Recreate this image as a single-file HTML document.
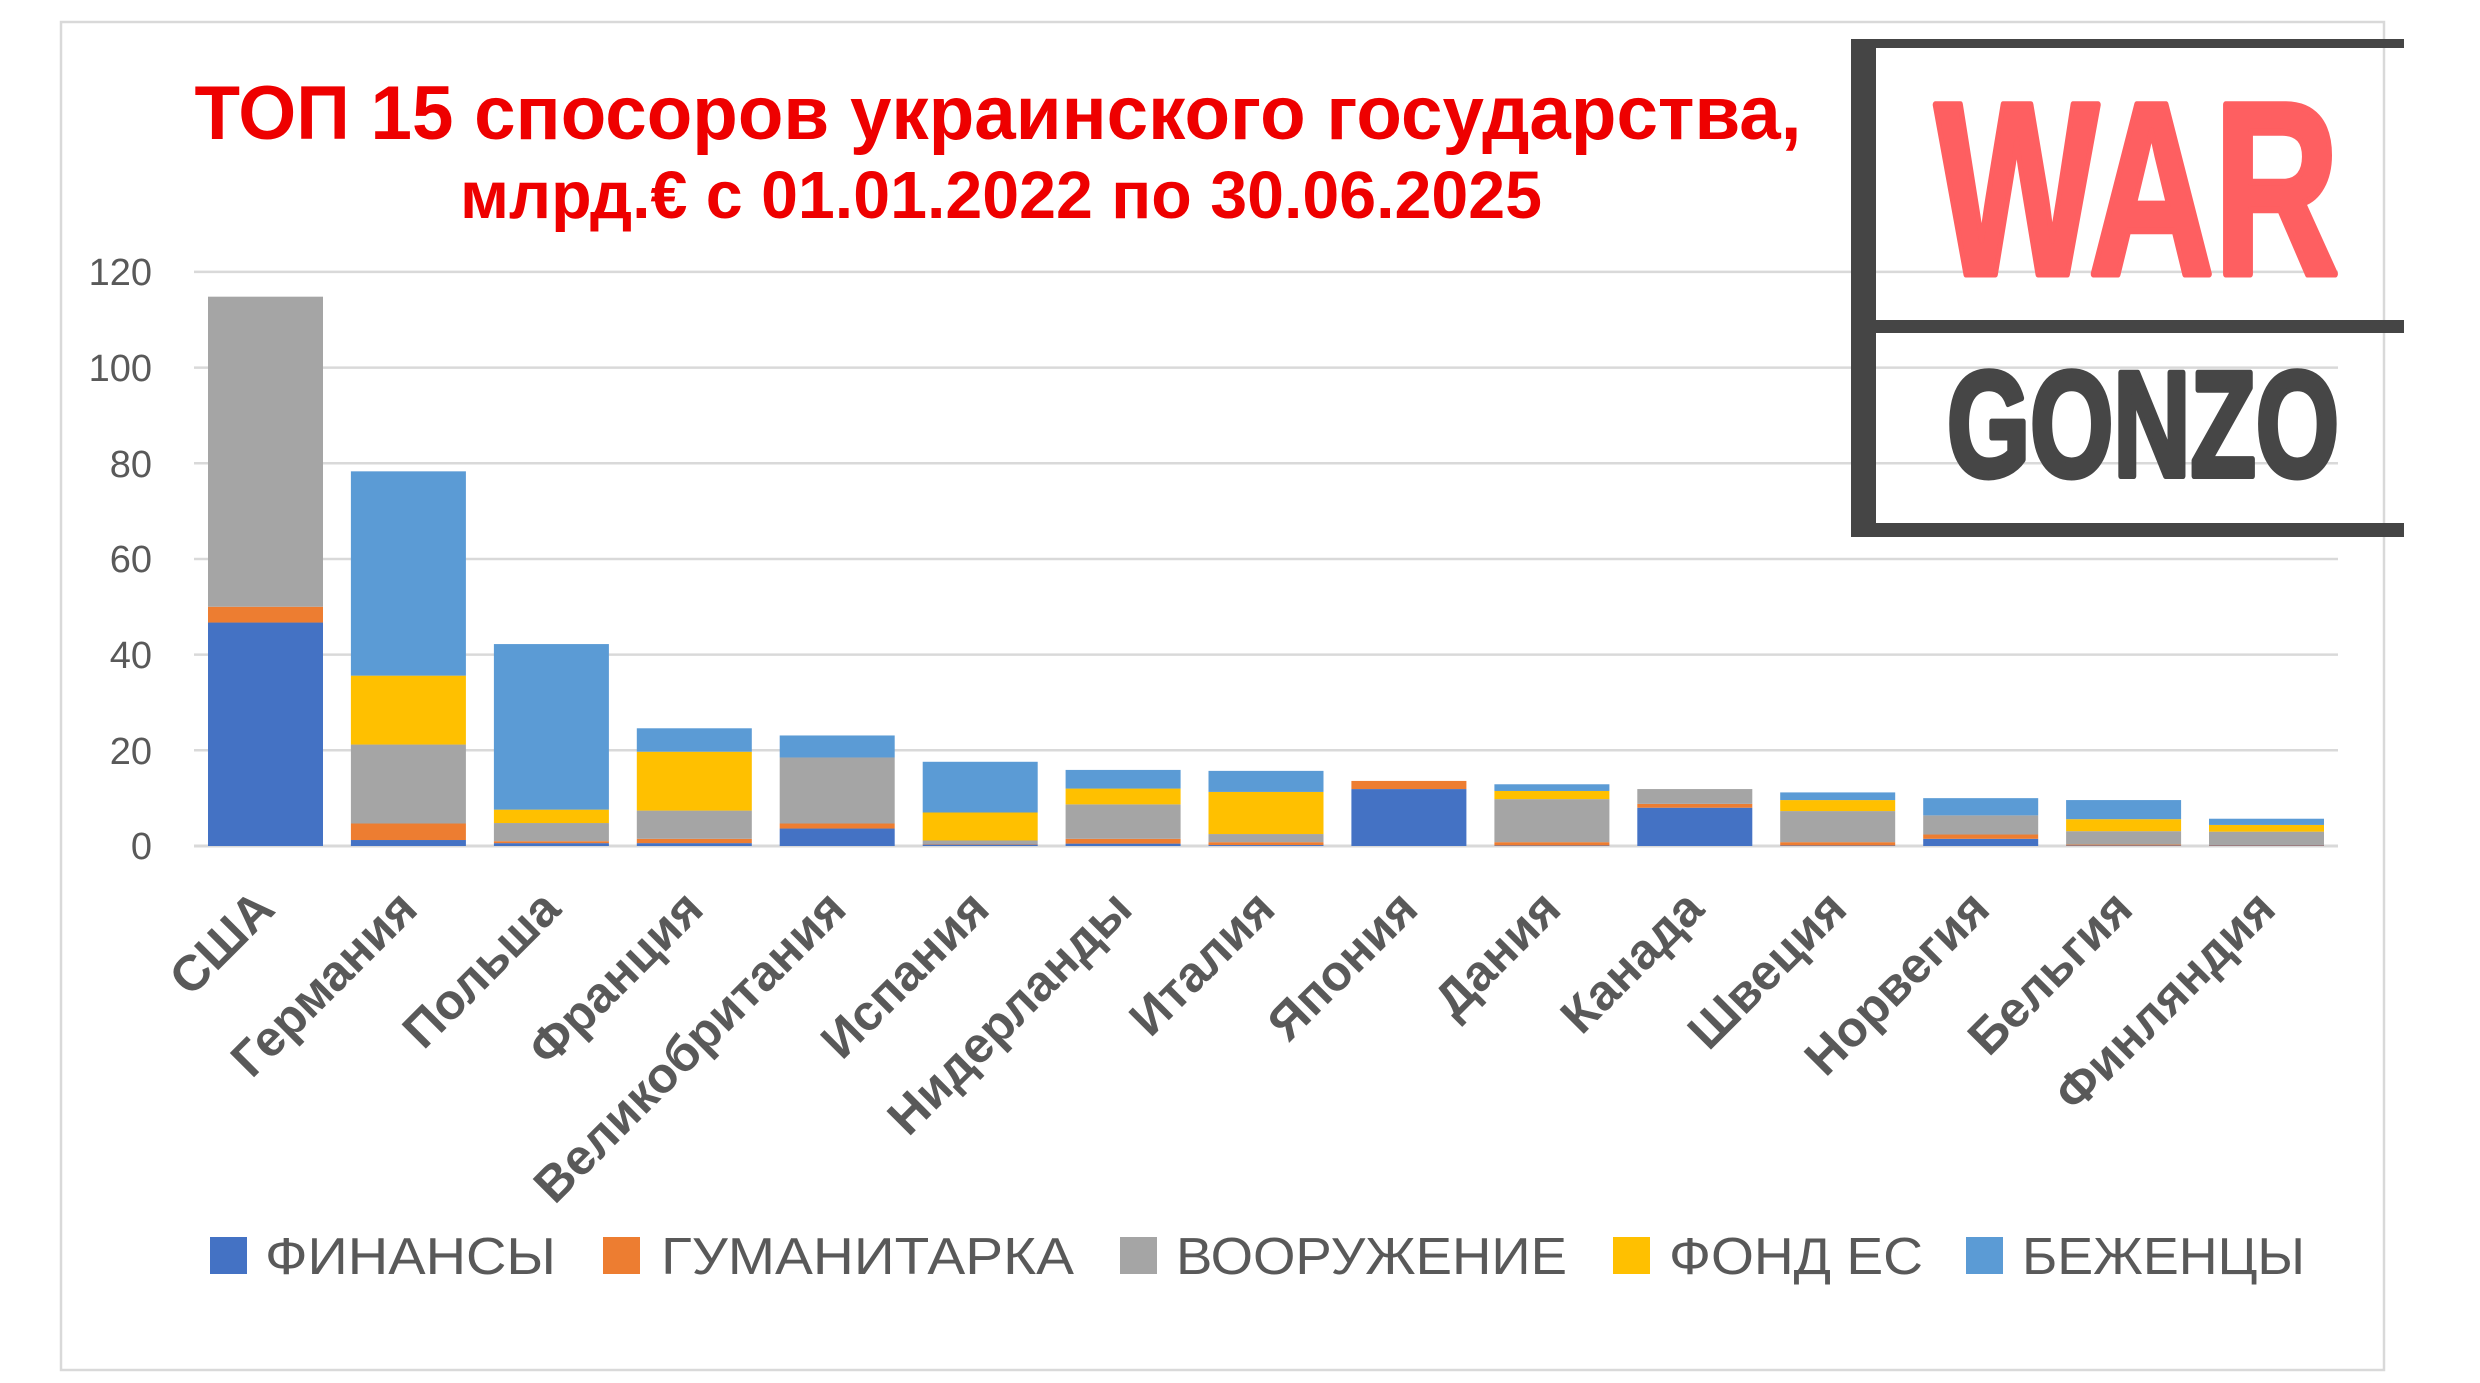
<!DOCTYPE html>
<html>
<head>
<meta charset="utf-8">
<style>
html,body{margin:0;padding:0;background:#fff;}
svg{display:block;}
</style>
</head>
<body>
<svg width="2480" height="1383" viewBox="0 0 2480 1383" xmlns="http://www.w3.org/2000/svg">
<rect x="0" y="0" width="2480" height="1383" fill="#ffffff"/>
<rect x="61" y="22" width="2323" height="1348" fill="none" stroke="#d9d9d9" stroke-width="2.5"/>

<!-- Title -->
<g font-family="'Liberation Sans', Arial, sans-serif" font-weight="bold" fill="#ee0000" text-anchor="middle">
<text x="998" y="139" font-size="76" textLength="1607" lengthAdjust="spacingAndGlyphs">ТОП 15 спосоров украинского государства,</text>
<text x="1001" y="218" font-size="67" textLength="1082" lengthAdjust="spacingAndGlyphs">млрд.€ с 01.01.2022 по 30.06.2025</text>
</g>

<!-- Gridlines -->
<g stroke="#d9d9d9" stroke-width="2.5">
<line x1="194" y1="271.9" x2="2338" y2="271.9"/>
<line x1="194" y1="367.6" x2="2338" y2="367.6"/>
<line x1="194" y1="463.3" x2="2338" y2="463.3"/>
<line x1="194" y1="559" x2="2338" y2="559"/>
<line x1="194" y1="654.6" x2="2338" y2="654.6"/>
<line x1="194" y1="750.3" x2="2338" y2="750.3"/>
<line x1="194" y1="846" x2="2338" y2="846" stroke-width="3"/>
</g>

<!-- Bars -->
<g transform="translate(0,846) scale(1,-4.785)">
<!-- США -->
<rect x="208" y="0" width="115" height="46.7" fill="#4472C4"/>
<rect x="208" y="46.7" width="115" height="3.3" fill="#ED7D31"/>
<rect x="208" y="50" width="115" height="64.8" fill="#A5A5A5"/>
<!-- Германия -->
<rect x="350.9" y="0" width="115" height="1.25" fill="#4472C4"/>
<rect x="350.9" y="1.25" width="115" height="3.45" fill="#ED7D31"/>
<rect x="350.9" y="4.7" width="115" height="16.5" fill="#A5A5A5"/>
<rect x="350.9" y="21.2" width="115" height="14.4" fill="#FFC000"/>
<rect x="350.9" y="35.6" width="115" height="42.7" fill="#5B9BD5"/>
<!-- Польша -->
<rect x="493.9" y="0" width="115" height="0.6" fill="#4472C4"/>
<rect x="493.9" y="0.6" width="115" height="0.4" fill="#ED7D31"/>
<rect x="493.9" y="1.0" width="115" height="3.8" fill="#A5A5A5"/>
<rect x="493.9" y="4.8" width="115" height="2.8" fill="#FFC000"/>
<rect x="493.9" y="7.6" width="115" height="34.6" fill="#5B9BD5"/>
<!-- Франция -->
<rect x="636.8" y="0" width="115" height="0.6" fill="#4472C4"/>
<rect x="636.8" y="0.6" width="115" height="0.9" fill="#ED7D31"/>
<rect x="636.8" y="1.5" width="115" height="5.9" fill="#A5A5A5"/>
<rect x="636.8" y="7.4" width="115" height="12.3" fill="#FFC000"/>
<rect x="636.8" y="19.7" width="115" height="4.9" fill="#5B9BD5"/>
<!-- Великобритания -->
<rect x="779.7" y="0" width="115" height="3.65" fill="#4472C4"/>
<rect x="779.7" y="3.65" width="115" height="1.05" fill="#ED7D31"/>
<rect x="779.7" y="4.7" width="115" height="13.8" fill="#A5A5A5"/>
<rect x="779.7" y="18.5" width="115" height="4.6" fill="#5B9BD5"/>
<!-- Испания -->
<rect x="922.7" y="0" width="115" height="0.3" fill="#4472C4"/>
<rect x="922.7" y="0.3" width="115" height="0.1" fill="#ED7D31"/>
<rect x="922.7" y="0.4" width="115" height="0.75" fill="#A5A5A5"/>
<rect x="922.7" y="1.15" width="115" height="5.85" fill="#FFC000"/>
<rect x="922.7" y="7.0" width="115" height="10.6" fill="#5B9BD5"/>
<!-- Нидерланды -->
<rect x="1065.6" y="0" width="115" height="0.5" fill="#4472C4"/>
<rect x="1065.6" y="0.5" width="115" height="1.0" fill="#ED7D31"/>
<rect x="1065.6" y="1.5" width="115" height="7.2" fill="#A5A5A5"/>
<rect x="1065.6" y="8.7" width="115" height="3.3" fill="#FFC000"/>
<rect x="1065.6" y="12.0" width="115" height="3.9" fill="#5B9BD5"/>
<!-- Италия -->
<rect x="1208.5" y="0" width="115" height="0.2" fill="#4472C4"/>
<rect x="1208.5" y="0.2" width="115" height="0.6" fill="#ED7D31"/>
<rect x="1208.5" y="0.8" width="115" height="1.7" fill="#A5A5A5"/>
<rect x="1208.5" y="2.5" width="115" height="8.8" fill="#FFC000"/>
<rect x="1208.5" y="11.3" width="115" height="4.4" fill="#5B9BD5"/>
<!-- Япония -->
<rect x="1351.4" y="0" width="115" height="11.9" fill="#4472C4"/>
<rect x="1351.4" y="11.9" width="115" height="1.7" fill="#ED7D31"/>
<!-- Дания -->
<rect x="1494.4" y="0" width="115" height="0.1" fill="#4472C4"/>
<rect x="1494.4" y="0.1" width="115" height="0.7" fill="#ED7D31"/>
<rect x="1494.4" y="0.8" width="115" height="9.0" fill="#A5A5A5"/>
<rect x="1494.4" y="9.8" width="115" height="1.7" fill="#FFC000"/>
<rect x="1494.4" y="11.5" width="115" height="1.4" fill="#5B9BD5"/>
<!-- Канада -->
<rect x="1637.3" y="0" width="115" height="8.0" fill="#4472C4"/>
<rect x="1637.3" y="8.0" width="115" height="0.8" fill="#ED7D31"/>
<rect x="1637.3" y="8.8" width="115" height="3.1" fill="#A5A5A5"/>
<!-- Швеция -->
<rect x="1780.2" y="0" width="115" height="0.1" fill="#4472C4"/>
<rect x="1780.2" y="0.1" width="115" height="0.7" fill="#ED7D31"/>
<rect x="1780.2" y="0.8" width="115" height="6.5" fill="#A5A5A5"/>
<rect x="1780.2" y="7.3" width="115" height="2.3" fill="#FFC000"/>
<rect x="1780.2" y="9.6" width="115" height="1.6" fill="#5B9BD5"/>
<!-- Норвегия -->
<rect x="1923.2" y="0" width="115" height="1.5" fill="#4472C4"/>
<rect x="1923.2" y="1.5" width="115" height="0.9" fill="#ED7D31"/>
<rect x="1923.2" y="2.4" width="115" height="4.0" fill="#A5A5A5"/>
<rect x="1923.2" y="6.4" width="115" height="3.6" fill="#5B9BD5"/>
<!-- Бельгия -->
<rect x="2066.1" y="0" width="115" height="0.1" fill="#4472C4"/>
<rect x="2066.1" y="0.1" width="115" height="0.2" fill="#ED7D31"/>
<rect x="2066.1" y="0.3" width="115" height="2.8" fill="#A5A5A5"/>
<rect x="2066.1" y="3.1" width="115" height="2.5" fill="#FFC000"/>
<rect x="2066.1" y="5.6" width="115" height="4.0" fill="#5B9BD5"/>
<!-- Финляндия -->
<rect x="2209" y="0" width="115" height="0.1" fill="#4472C4"/>
<rect x="2209" y="0.1" width="115" height="0.1" fill="#ED7D31"/>
<rect x="2209" y="0.2" width="115" height="2.8" fill="#A5A5A5"/>
<rect x="2209" y="3.0" width="115" height="1.4" fill="#FFC000"/>
<rect x="2209" y="4.4" width="115" height="1.3" fill="#5B9BD5"/>
</g>

<!-- Y axis labels -->
<g font-family="'Liberation Sans', Arial, sans-serif" font-size="38" fill="#595959" text-anchor="end">
<text x="152" y="285">120</text>
<text x="152" y="381">100</text>
<text x="152" y="477">80</text>
<text x="152" y="572">60</text>
<text x="152" y="668">40</text>
<text x="152" y="764">20</text>
<text x="152" y="859">0</text>
</g>

<!-- Category labels -->
<g font-family="'Liberation Sans', Arial, sans-serif" font-size="50" font-weight="bold" fill="#595959" text-anchor="end">
<text transform="translate(277,911.5) rotate(-45)">США</text>
<text transform="translate(419.9,911.5) rotate(-45)">Германия</text>
<text transform="translate(562.9,911.5) rotate(-45)">Польша</text>
<text transform="translate(705.8,911.5) rotate(-45)">Франция</text>
<text transform="translate(848.7,911.5) rotate(-45)">Великобритания</text>
<text transform="translate(991.7,911.5) rotate(-45)">Испания</text>
<text transform="translate(1134.6,911.5) rotate(-45)">Нидерланды</text>
<text transform="translate(1277.5,911.5) rotate(-45)">Италия</text>
<text transform="translate(1420.4,911.5) rotate(-45)">Япония</text>
<text transform="translate(1563.4,911.5) rotate(-45)">Дания</text>
<text transform="translate(1706.3,911.5) rotate(-45)">Канада</text>
<text transform="translate(1849.2,911.5) rotate(-45)">Швеция</text>
<text transform="translate(1992.2,911.5) rotate(-45)">Норвегия</text>
<text transform="translate(2135.1,911.5) rotate(-45)">Бельгия</text>
<text transform="translate(2278,911.5) rotate(-45)">Финляндия</text>
</g>

<!-- Legend -->
<rect x="210" y="1237" width="37" height="37" fill="#4472C4"/>
<rect x="603" y="1237" width="37" height="37" fill="#ED7D31"/>
<rect x="1120" y="1237" width="37" height="37" fill="#A5A5A5"/>
<rect x="1613" y="1237" width="37" height="37" fill="#FFC000"/>
<rect x="1966" y="1237" width="37" height="37" fill="#5B9BD5"/>
<g font-family="'Liberation Sans', Arial, sans-serif" font-size="52" fill="#595959">
<text x="265" y="1274" textLength="291" lengthAdjust="spacingAndGlyphs">ФИНАНСЫ</text>
<text x="661" y="1274" textLength="413" lengthAdjust="spacingAndGlyphs">ГУМАНИТАРКА</text>
<text x="1176" y="1274" textLength="391" lengthAdjust="spacingAndGlyphs">ВООРУЖЕНИЕ</text>
<text x="1669" y="1274" textLength="254" lengthAdjust="spacingAndGlyphs">ФОНД ЕС</text>
<text x="2022" y="1274" textLength="283" lengthAdjust="spacingAndGlyphs">БЕЖЕНЦЫ</text>
</g>

<!-- Logo -->
<g fill="#454545">
<rect x="1851" y="39" width="553" height="9"/>
<rect x="1851" y="39" width="25" height="498"/>
<rect x="1875" y="320" width="529" height="13"/>
<rect x="1851" y="523" width="553" height="14"/>
</g>
<text x="1935" y="274" font-family="'Liberation Sans', Arial, sans-serif" font-weight="bold" font-size="246" fill="#fe5f61" stroke="#fe5f61" stroke-width="7" stroke-linejoin="round" textLength="404" lengthAdjust="spacingAndGlyphs">WAR</text>
<text x="1947" y="476" font-family="'Liberation Sans', Arial, sans-serif" font-weight="bold" font-size="150" fill="#464646" stroke="#464646" stroke-width="6" stroke-linejoin="round" textLength="392" lengthAdjust="spacingAndGlyphs">GONZO</text>
</svg>
</body>
</html>
